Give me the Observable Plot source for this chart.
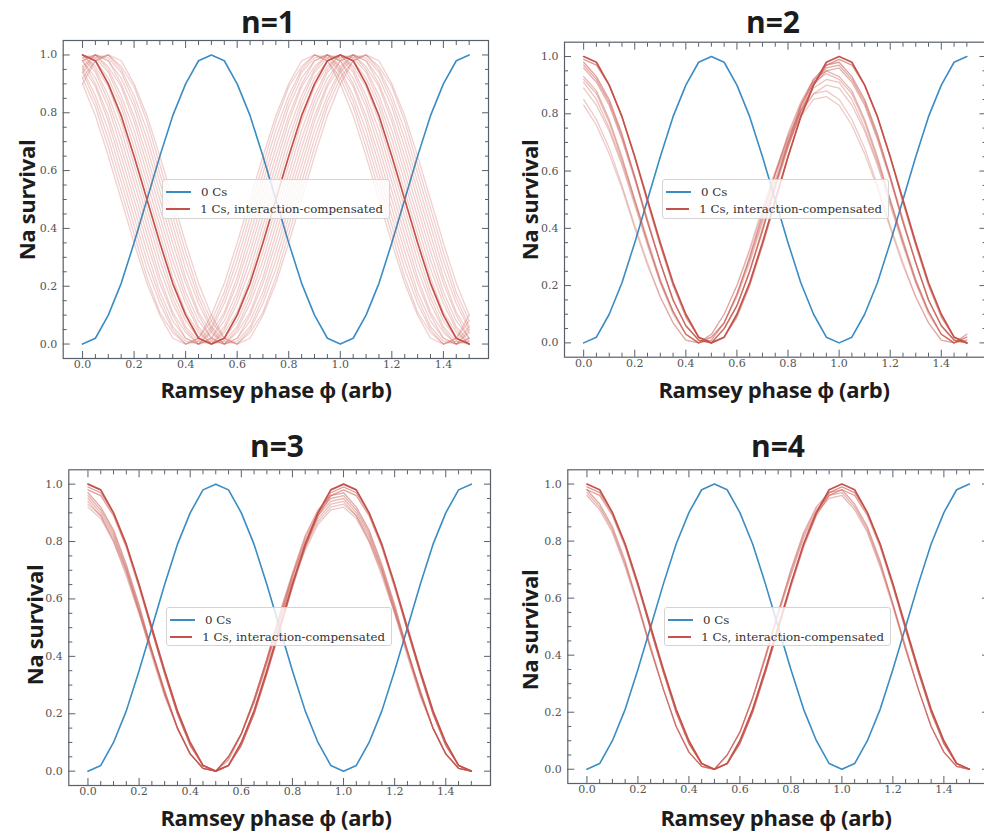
<!DOCTYPE html>
<html><head><meta charset="utf-8">
<script src="https://cdn.jsdelivr.net/npm/d3@7"></script>
<script src="https://cdn.jsdelivr.net/npm/@observablehq/plot@0.6"></script>
<style>
html,body{margin:0;padding:0;background:#fff;overflow:hidden}
#root{position:relative;width:984px;height:838px;overflow:hidden;background:#fff}
.panel{position:absolute}
.title{position:absolute;font-family:"Open Sans",sans-serif;font-weight:700;font-size:30px;line-height:1.1;color:#1c1c1c;transform:translateX(-50%);white-space:nowrap}
.xlabel{position:absolute;font-family:"Open Sans",sans-serif;font-weight:700;font-size:22px;line-height:0.8;color:#1c1c1c;transform:translateX(-50%);white-space:nowrap;letter-spacing:-0.3px}
.ylabel{position:absolute;font-family:"Open Sans",sans-serif;font-weight:700;font-size:22px;line-height:0.8;color:#1c1c1c;white-space:nowrap;transform:translate(-50%,-50%) rotate(-90deg);letter-spacing:-0.3px}
.legend{position:absolute;background:rgba(255,255,255,0.8);border:1px solid #d4d4d4;border-radius:3px;box-sizing:border-box;font-family:"DejaVu Serif",serif;font-size:11.8px;color:#333;padding:3px 6px 0 3px}
.legend .row{display:flex;align-items:center;height:17px;white-space:nowrap}
.legend .sw{display:inline-block;width:25px;height:2px;margin-right:10px}
</style></head>
<body><div id="root"></div>
<script>
// ---- data ----
const phase = [0,0.05,0.1,0.15,0.2,0.25,0.3,0.35,0.4,0.45,0.5,0.55,0.6,0.65,0.7,0.75,0.8,0.85,0.9,0.95,1,1.05,1.1,1.15,1.2,1.25,1.3,1.35,1.4,1.45,1.5];
const zeroCs = [0,.02,.10,.21,.35,.50,.65,.79,.90,.98,1,.98,.90,.79,.65,.50,.35,.21,.10,.02,0,.02,.10,.21,.35,.50,.65,.79,.90,.98,1];
const oneCsIdeal = [1,.98,.90,.79,.65,.50,.35,.21,.10,.02,0,.02,.10,.21,.35,.50,.65,.79,.90,.98,1,.98,.90,.79,.65,.50,.35,.21,.10,.02,0];

// n=1 shots
const n1_m10 = [.90,.79,.65,.50,.35,.21,.10,.02,.00,.02,.10,.21,.35,.50,.65,.79,.90,.98,1.00,.98,.90,.79,.65,.50,.35,.21,.10,.02,.00,.02,.10];
const n1_m09 = [.92,.82,.68,.53,.38,.23,.11,.04,.00,.02,.08,.18,.32,.47,.62,.77,.89,.96,1.00,.98,.92,.82,.68,.53,.38,.23,.11,.04,.00,.02,.08];
const n1_m08 = [.94,.84,.71,.56,.41,.26,.14,.05,.00,.01,.06,.16,.29,.44,.59,.74,.86,.95,1.00,.99,.94,.84,.71,.56,.41,.26,.14,.05,.00,.01,.06];
const n1_m07 = [.95,.86,.74,.59,.44,.29,.16,.06,.01,.00,.05,.14,.26,.41,.56,.71,.84,.94,.99,1.00,.95,.86,.74,.59,.44,.29,.16,.06,.01,.00,.05];
const n1_m06 = [.96,.89,.77,.62,.47,.32,.18,.08,.02,.00,.04,.11,.23,.38,.53,.68,.82,.92,.98,1.00,.96,.89,.77,.62,.47,.32,.18,.08,.02,.00,.04];
const n1_m05 = [.98,.90,.79,.65,.50,.35,.21,.10,.02,.00,.02,.10,.21,.35,.50,.65,.79,.90,.98,1.00,.98,.90,.79,.65,.50,.35,.21,.10,.02,.00,.02];
const n1_m04 = [.98,.92,.82,.68,.53,.38,.23,.11,.04,.00,.02,.08,.18,.32,.47,.62,.77,.89,.96,1.00,.98,.92,.82,.68,.53,.38,.23,.11,.04,.00,.02];
const n1_m03 = [.99,.94,.84,.71,.56,.41,.26,.14,.05,.00,.01,.06,.16,.29,.44,.59,.74,.86,.95,1.00,.99,.94,.84,.71,.56,.41,.26,.14,.05,.00,.01];
const n1_m02 = [1.00,.95,.86,.74,.59,.44,.29,.16,.06,.01,.00,.05,.14,.26,.41,.56,.71,.84,.94,.99,1.00,.95,.86,.74,.59,.44,.29,.16,.06,.01,.00];
const n1_m01 = [1.00,.96,.89,.77,.62,.47,.32,.18,.08,.02,.00,.04,.11,.23,.38,.53,.68,.82,.92,.98,1.00,.96,.89,.77,.62,.47,.32,.18,.08,.02,.00];
const n1_p01 = [1.00,.98,.92,.82,.68,.53,.38,.23,.11,.04,.00,.02,.08,.18,.32,.47,.62,.77,.89,.96,1.00,.98,.92,.82,.68,.53,.38,.23,.11,.04,.00];
const n1_p02 = [1.00,.99,.94,.84,.71,.56,.41,.26,.14,.05,.00,.01,.06,.16,.29,.44,.59,.74,.86,.95,1.00,.99,.94,.84,.71,.56,.41,.26,.14,.05,.00];
const n1_p03 = [.99,1.00,.95,.86,.74,.59,.44,.29,.16,.06,.01,.00,.05,.14,.26,.41,.56,.71,.84,.94,.99,1.00,.95,.86,.74,.59,.44,.29,.16,.06,.01];
const n1_p04 = [.98,1.00,.96,.89,.77,.62,.47,.32,.18,.08,.02,.00,.04,.11,.23,.38,.53,.68,.82,.92,.98,1.00,.96,.89,.77,.62,.47,.32,.18,.08,.02];
const n1_p05 = [.98,1.00,.98,.90,.79,.65,.50,.35,.21,.10,.02,.00,.02,.10,.21,.35,.50,.65,.79,.90,.98,1.00,.98,.90,.79,.65,.50,.35,.21,.10,.02];
const n1_p06 = [.96,1.00,.98,.92,.82,.68,.53,.38,.23,.11,.04,.00,.02,.08,.18,.32,.47,.62,.77,.89,.96,1.00,.98,.92,.82,.68,.53,.38,.23,.11,.04];
const n1_p07 = [.95,1.00,.99,.94,.84,.71,.56,.41,.26,.14,.05,.00,.01,.06,.16,.29,.44,.59,.74,.86,.95,1.00,.99,.94,.84,.71,.56,.41,.26,.14,.05];
const n1_p08 = [.94,.99,1.00,.95,.86,.74,.59,.44,.29,.16,.06,.01,.00,.05,.14,.26,.41,.56,.71,.84,.94,.99,1.00,.95,.86,.74,.59,.44,.29,.16,.06];
const n1_p09 = [.92,.98,1.00,.96,.89,.77,.62,.47,.32,.18,.08,.02,.00,.04,.11,.23,.38,.53,.68,.82,.92,.98,1.00,.96,.89,.77,.62,.47,.32,.18,.08];
const n1_p10 = [.90,.98,1.00,.98,.90,.79,.65,.50,.35,.21,.10,.02,.00,.02,.10,.21,.35,.50,.65,.79,.90,.98,1.00,.98,.90,.79,.65,.50,.35,.21,.10];

// n=2 shots
const n2_a = [.99,.97,.90,.79,.65,.49,.34,.20,.09,.02,.00,.02,.09,.20,.34,.49,.65,.79,.90,.97,.99,.97,.90,.79,.65,.49,.34,.20,.09,.02,.00];
const n2_b = [.98,.93,.85,.73,.58,.43,.28,.15,.06,.01,.00,.05,.13,.25,.40,.55,.70,.83,.92,.97,.98,.93,.85,.73,.58,.43,.28,.15,.06,.01,.00];
const n2_c = [.97,.92,.84,.72,.58,.42,.28,.15,.06,.01,.00,.05,.13,.25,.39,.55,.69,.82,.91,.96,.97,.92,.84,.72,.58,.42,.28,.15,.06,.01,.00];
const n2_d = [.96,.91,.83,.71,.57,.42,.28,.15,.06,.01,.00,.05,.13,.25,.39,.54,.68,.81,.90,.95,.96,.91,.83,.71,.57,.42,.28,.15,.06,.01,.00];
const n2_e = [.93,.88,.78,.65,.50,.36,.22,.11,.03,.00,.02,.07,.17,.30,.45,.59,.73,.84,.92,.95,.93,.88,.78,.65,.50,.36,.22,.11,.03,.00,.02];
const n2_f = [.92,.87,.77,.64,.50,.35,.22,.11,.03,.00,.02,.07,.17,.30,.44,.59,.72,.83,.91,.94,.92,.87,.77,.64,.50,.35,.22,.11,.03,.00,.02];
const n2_g = [.91,.85,.75,.63,.49,.35,.21,.11,.03,.00,.01,.07,.17,.29,.43,.57,.71,.81,.89,.92,.91,.85,.75,.63,.49,.35,.21,.11,.03,.00,.01];
const n2_h = [.89,.83,.74,.62,.48,.34,.21,.10,.03,.00,.01,.07,.16,.28,.42,.56,.69,.80,.87,.90,.89,.83,.74,.62,.48,.34,.21,.10,.03,.00,.01];
const n2_i = [.85,.78,.68,.55,.41,.28,.16,.07,.01,.00,.03,.10,.20,.33,.47,.60,.72,.81,.87,.88,.85,.78,.68,.55,.41,.28,.16,.07,.01,.00,.03];
const n2_j = [.83,.76,.66,.54,.40,.27,.16,.07,.01,.00,.03,.10,.20,.32,.46,.59,.70,.79,.85,.86,.83,.76,.66,.54,.40,.27,.16,.07,.01,.00,.03];

// n=3 shots
const n3_a = [.99,.97,.90,.79,.65,.49,.34,.20,.09,.02,.00,.02,.09,.20,.34,.49,.65,.79,.90,.97,.99,.97,.90,.79,.65,.49,.34,.20,.09,.02,.00];
const n3_b = [.98,.96,.89,.78,.64,.49,.34,.20,.09,.02,.00,.02,.09,.20,.34,.49,.64,.78,.89,.96,.98,.96,.89,.78,.64,.49,.34,.20,.09,.02,.00];
const n3_c = [.97,.92,.84,.72,.58,.42,.28,.15,.06,.01,.00,.05,.13,.25,.39,.55,.69,.82,.91,.96,.97,.92,.84,.72,.58,.42,.28,.15,.06,.01,.00];
const n3_d = [.96,.91,.83,.71,.57,.42,.28,.15,.06,.01,.00,.05,.13,.25,.39,.54,.68,.81,.90,.95,.96,.91,.83,.71,.57,.42,.28,.15,.06,.01,.00];
const n3_e = [.95,.90,.82,.70,.56,.42,.27,.15,.06,.01,.00,.05,.13,.25,.39,.53,.68,.80,.89,.94,.95,.90,.82,.70,.56,.42,.27,.15,.06,.01,.00];
const n3_f = [.94,.89,.81,.70,.56,.41,.27,.15,.06,.01,.00,.05,.13,.24,.38,.53,.67,.79,.88,.93,.94,.89,.81,.70,.56,.41,.27,.15,.06,.01,.00];
const n3_g = [.93,.89,.80,.69,.55,.41,.27,.15,.06,.01,.00,.04,.13,.24,.38,.52,.66,.78,.87,.92,.93,.89,.80,.69,.55,.41,.27,.15,.06,.01,.00];
const n3_h = [.92,.88,.80,.68,.55,.40,.26,.15,.06,.01,.00,.04,.13,.24,.37,.52,.66,.77,.86,.91,.92,.88,.80,.68,.55,.40,.26,.15,.06,.01,.00];

// n=4 shots
const n4_a = [.99,.97,.90,.79,.65,.49,.34,.20,.09,.02,.00,.02,.09,.20,.34,.49,.65,.79,.90,.97,.99,.97,.90,.79,.65,.49,.34,.20,.09,.02,.00];
const n4_b = [.98,.96,.89,.78,.64,.49,.34,.20,.09,.02,.00,.02,.09,.20,.34,.49,.64,.78,.89,.96,.98,.96,.89,.78,.64,.49,.34,.20,.09,.02,.00];
const n4_c = [.98,.93,.85,.73,.58,.43,.28,.15,.06,.01,.00,.05,.13,.25,.40,.55,.70,.83,.92,.97,.98,.93,.85,.73,.58,.43,.28,.15,.06,.01,.00];
const n4_d = [.97,.92,.84,.72,.58,.42,.28,.15,.06,.01,.00,.05,.13,.25,.39,.55,.69,.82,.91,.96,.97,.92,.84,.72,.58,.42,.28,.15,.06,.01,.00];
const n4_e = [.96,.91,.83,.71,.57,.42,.28,.15,.06,.01,.00,.05,.13,.25,.39,.54,.68,.81,.90,.95,.96,.91,.83,.71,.57,.42,.28,.15,.06,.01,.00];

const titles = ["n=1","n=2","n=3","n=4"];
const legendLabels = ["0 Cs","1 Cs, interaction-compensated"];
const xTitle = "Ramsey phase ϕ (arb)";
const yTitle = "Na survival";
const xMajor = [0,0.2,0.4,0.6,0.8,1.0,1.2,1.4];
const xMinor = [0.05,0.1,0.15,0.25,0.3,0.35,0.45,0.5,0.55,0.65,0.7,0.75,0.85,0.9,0.95,1.05,1.1,1.15,1.25,1.3,1.35,1.45,1.5];
const yMajor = [0,0.2,0.4,0.6,0.8,1.0];
const yMinor = [0.05,0.1,0.15,0.25,0.3,0.35,0.45,0.5,0.55,0.65,0.7,0.75,0.85,0.9,0.95];

const shots = [
  [n1_m10,n1_m09,n1_m08,n1_m07,n1_m06,n1_m05,n1_m04,n1_m03,n1_m02,n1_m01,n1_p01,n1_p02,n1_p03,n1_p04,n1_p05,n1_p06,n1_p07,n1_p08,n1_p09,n1_p10],
  [n2_a,n2_b,n2_c,n2_d,n2_e,n2_f,n2_g,n2_h,n2_i,n2_j],
  [n3_a,n3_b,n3_c,n3_d,n3_e,n3_f,n3_g,n3_h],
  [n4_a,n4_b,n4_c,n4_d,n4_e]
];
const shotOpacity = [
  [0.27,0.27,0.27,0.27,0.27,0.27,0.27,0.27,0.27,0.27,0.27,0.27,0.27,0.27,0.27,0.27,0.27,0.27,0.27,0.27],
  [0.6,0.55,0.5,0.45,0.42,0.38,0.35,0.33,0.31,0.3],
  [0.6,0.55,0.5,0.45,0.4,0.37,0.34,0.32],
  [0.6,0.55,0.5,0.45,0.4]
];

// ---- style / layout ----
const BLUE = "#3a8dc4", RED = "#c5524a", FRAME = "#58606b", TICKTXT = "#555";
const layout = [
  {left:0,   top:30,  w:500, h:362, ml:62.7, mr:12,  mt:10,  mb:34,
   title:[268,4.5], xl:[276,381], yl:[27,200], leg:[162,179,228,40]},
  {left:500, top:30,  w:490, h:362, ml:64,   mr:4.5, mt:11.7,mb:35.3,
   title:[773,4.5], xl:[774,381], yl:[530,200], leg:[662,179,227,40]},
  {left:0,   top:460, w:500, h:362, ml:68.3, mr:10,  mt:9.3, mb:37,
   title:[277,429], xl:[276,809], yl:[35,625], leg:[166,607,226,39]},
  {left:500, top:460, w:490, h:362, ml:67.3, mr:2,   mt:9.3, mb:39,
   title:[778,429], xl:[776,809], yl:[530,630], leg:[664,607,227,39]}
];

const root = document.getElementById("root");
const toRows = (arr) => phase.map((p, i) => ({p, v: arr[i]}));

layout.forEach((L, k) => {
  const marks = [
    Plot.line(toRows(zeroCs), {x: "p", y: "v", stroke: BLUE, strokeWidth: 1.6}),
    ...shots[k].map((arr, j) => Plot.line(toRows(arr), {x: "p", y: "v", stroke: RED, strokeOpacity: shotOpacity[k][j], strokeWidth: 1.3})),
    Plot.line(toRows(oneCsIdeal), {x: "p", y: "v", stroke: RED, strokeWidth: 1.7}),
    Plot.frame({stroke: FRAME, strokeWidth: 1.2}),
    Plot.axisX(xMajor, {anchor: "bottom", tickSize: -7, stroke: FRAME, fill: "none", label: null}),
    Plot.axisX(xMinor, {anchor: "bottom", tickSize: -4, stroke: FRAME, fill: "none", label: null}),
    Plot.axisX(xMajor, {anchor: "top", tickSize: -7, stroke: FRAME, fill: "none", label: null}),
    Plot.axisX(xMinor, {anchor: "top", tickSize: -4, stroke: FRAME, fill: "none", label: null}),
    Plot.axisY(yMajor, {anchor: "left", tickSize: -7, stroke: FRAME, fill: "none", label: null}),
    Plot.axisY(yMinor, {anchor: "left", tickSize: -4, stroke: FRAME, fill: "none", label: null}),
    Plot.axisY(yMajor, {anchor: "right", tickSize: -7, stroke: FRAME, fill: "none", label: null}),
    Plot.axisY(yMinor, {anchor: "right", tickSize: -4, stroke: FRAME, fill: "none", label: null}),
    Plot.axisX(xMajor, {anchor: "bottom", tickSize: 0, tickPadding: 2, fill: TICKTXT, label: null, tickFormat: d3.format(".1f")}),
    Plot.axisY(yMajor, {anchor: "left", tickSize: 0, tickPadding: 6, fill: TICKTXT, label: null, tickFormat: d3.format(".1f")})
  ];
  const svg = Plot.plot({
    width: L.w, height: L.h,
    marginLeft: L.ml, marginRight: L.mr, marginTop: L.mt, marginBottom: L.mb,
    x: {domain: [-0.075, 1.575], axis: null},
    y: {domain: [-0.05, 1.05], axis: null},
    style: {background: "transparent", fontFamily: "DejaVu Serif", fontSize: "11px", overflow: "visible"},
    marks
  });
  svg.classList.add("panel");
  svg.style.left = L.left + "px";
  svg.style.top = L.top + "px";
  root.appendChild(svg);

  const t = document.createElement("div");
  t.className = "title"; t.textContent = titles[k];
  t.style.left = L.title[0] + "px"; t.style.top = L.title[1] + "px";
  root.appendChild(t);

  const xl = document.createElement("div");
  xl.className = "xlabel"; xl.textContent = xTitle;
  xl.style.left = L.xl[0] + "px"; xl.style.top = L.xl[1] + "px";
  root.appendChild(xl);

  const yl = document.createElement("div");
  yl.className = "ylabel"; yl.textContent = yTitle;
  yl.style.left = L.yl[0] + "px"; yl.style.top = L.yl[1] + "px";
  root.appendChild(yl);

  const lg = document.createElement("div");
  lg.className = "legend";
  lg.style.left = L.leg[0] + "px"; lg.style.top = L.leg[1] + "px";
  lg.style.width = L.leg[2] + "px"; lg.style.height = L.leg[3] + "px";
  [BLUE, RED].forEach((c, j) => {
    const row = document.createElement("div"); row.className = "row";
    const sw = document.createElement("span"); sw.className = "sw"; sw.style.background = c;
    const tx = document.createElement("span"); tx.textContent = legendLabels[j];
    row.appendChild(sw); row.appendChild(tx); lg.appendChild(row);
  });
  root.appendChild(lg);
});
</script></body></html>
